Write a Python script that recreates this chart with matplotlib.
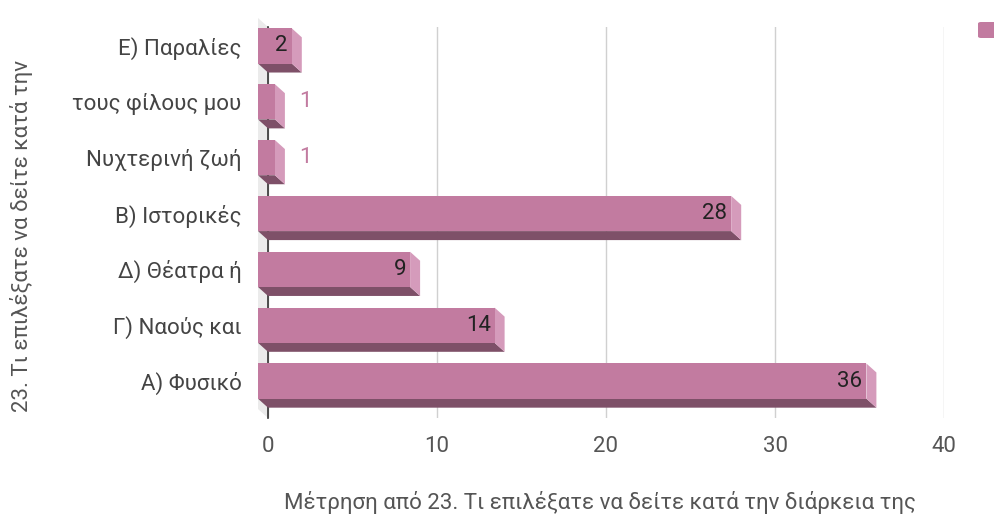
import matplotlib
matplotlib.use("Agg")
import matplotlib.pyplot as plt
import matplotlib.transforms as mtransforms
from matplotlib.patches import Polygon, FancyBboxPatch

plt.rcParams['font.family'] = ['Roboto', 'DejaVu Sans']

# categories listed top to bottom
categories = ["Ε) Παραλίες", "τους φίλους μου", "Νυχτερινή ζωή", "Β) Ιστορικές",
              "Δ) Θέατρα ή", "Γ) Ναούς και", "Α) Φυσικό"]
counts = [2, 1, 1, 28, 9, 14, 36]
xticks = [0, 10, 20, 30, 40]

FRONT = "#c27ba0"
BOTTOM = "#7e5068"
SIDE = "#d59bbb"
WALL = "#ebebeb"
DX, DY = -10, 9          # pixel shift of the front plane (left, up)
BAR_H = 0.63
FS = 16

fig = plt.figure(figsize=(9.95, 5.16), dpi=100)
ax = fig.add_axes([268 / 995, 98 / 516, 676 / 995, 391 / 516])
ax.set_xlim(0, 40)
ax.set_ylim(len(categories) - 0.5, -0.5)

front_off = mtransforms.ScaledTranslation(DX / 100, DY / 100, fig.dpi_scale_trans)
front_tr = ax.transData + front_off


def shift(x, y):
    p = ax.transData.transform((x, y)) + [DX, DY]
    return ax.transData.inverted().transform(p)


# side wall at the zero line
y0, y1 = -0.5, len(categories) - 0.5
wall = Polygon([(0, y0), (0, y1), shift(0, y1), shift(0, y0)], closed=True,
               facecolor=WALL, edgecolor="none", clip_on=False, zorder=0.5)
ax.add_patch(wall)

ax.set_xticks(xticks)
ax.xaxis.grid(True, color="#d0d0d0", linewidth=1)
ax.set_axisbelow(True)
for s in ["top", "right", "bottom"]:
    ax.spines[s].set_visible(False)
ax.spines["left"].set_color("#333333")
ax.spines["left"].set_linewidth(1.2)
ax.spines["left"].set_zorder(0.8)

# 3D bars: bottom face, right side face, then front face
for i, v in enumerate(counts):
    top, bot = i - BAR_H / 2, i + BAR_H / 2
    ax.add_patch(Polygon([shift(0, bot), shift(v, bot), (v, bot), (0, bot)],
                         closed=True, facecolor=BOTTOM, edgecolor="none",
                         clip_on=False, zorder=2))
    ax.add_patch(Polygon([shift(v, top), (v, top), (v, bot), shift(v, bot)],
                         closed=True, facecolor=SIDE, edgecolor="none",
                         clip_on=False, zorder=2))
ax.barh(range(len(categories)), counts, height=BAR_H, color=FRONT,
        transform=front_tr, clip_on=False, zorder=3)

# value labels
for i, v in enumerate(counts):
    if v >= 2:
        ax.text(v, i, str(v), transform=ax.transData +
                mtransforms.ScaledTranslation((DX - 4) / 100, DY / 100, fig.dpi_scale_trans),
                ha="right", va="center", fontsize=FS, color="#222222", zorder=4)
    else:
        ax.text(v, i, str(v), transform=ax.transData +
                mtransforms.ScaledTranslation(14 / 100, DY / 100, fig.dpi_scale_trans),
                ha="left", va="center", fontsize=FS, color=FRONT, zorder=4)

ax.set_yticks(range(len(categories)))
ax.set_yticklabels(categories)
ax.tick_params(axis="y", length=0, pad=19, labelsize=FS, labelcolor="#444444")
ax.tick_params(axis="x", length=0, pad=13, labelsize=FS, labelcolor="#555555")
lab_off = mtransforms.ScaledTranslation(0, DY / 100, fig.dpi_scale_trans)
for lab in ax.get_yticklabels():
    lab.set_transform(lab.get_transform() + lab_off)

fig.text(22 / 995, 1 - 236 / 516, "23. Τι επιλέξατε να δείτε κατά την",
         rotation=90, ha="center", va="center", fontsize=FS, color="#555555")
fig.text(600 / 995, 1 - 503 / 516,
         "Μέτρηση από 23. Τι επιλέξατε να δείτε κατά την διάρκεια της",
         ha="center", va="center", fontsize=FS, color="#555555")

# legend swatch (cut off at the right edge)
fig.patches.append(FancyBboxPatch((978 / 995, 1 - 38 / 516), 20 / 995, 16 / 516,
                                  boxstyle="round,pad=0,rounding_size=0.003",
                                  transform=fig.transFigure, facecolor=FRONT,
                                  edgecolor="none"))

fig.savefig("out.png", dpi=100)
